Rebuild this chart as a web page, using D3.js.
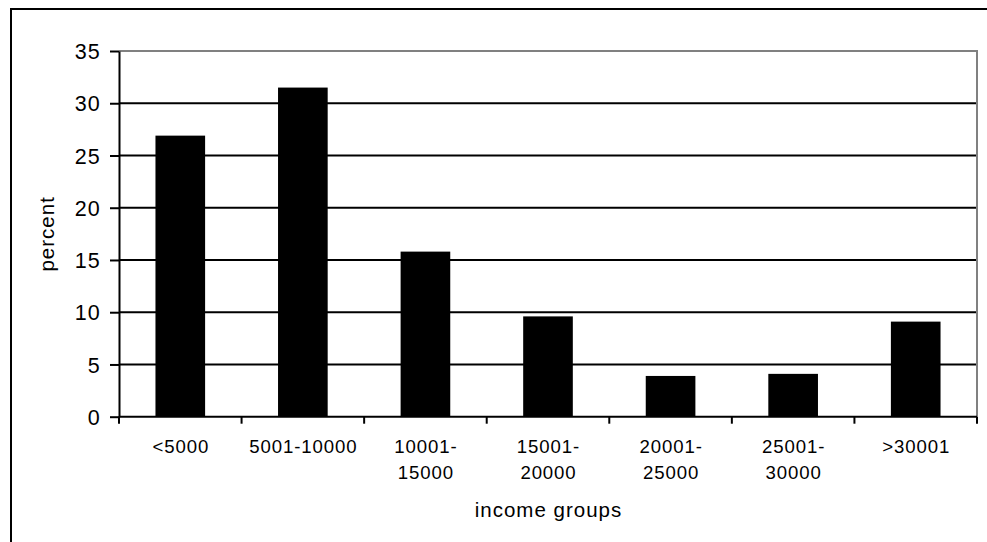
<!DOCTYPE html>
<html>
<head>
<meta charset="utf-8">
<script src="https://cdn.jsdelivr.net/npm/d3@7"></script>
<style>
  body { margin: 0; background: #fff; }
  svg { display: block; }
  text { font-family: "Liberation Sans", Arial, sans-serif; fill: #000; }
</style>
</head>
<body>
<svg id="chart" width="987" height="542"></svg>
<script>
// chart data
var groups = ["<5000", "5001-10000", "10001-15000", "15001-20000", "20001-25000", "25001-30000", ">30001"];
var groupLabels = [["<5000"], ["5001-10000"], ["10001-", "15000"], ["15001-", "20000"], ["20001-", "25000"], ["25001-", "30000"], [">30001"]];
var percent = [26.9, 31.5, 15.8, 9.6, 3.9, 4.1, 9.1];
var yTicks = [0, 5, 10, 15, 20, 25, 30, 35];

var svg = d3.select("#chart");

// plot area (note: "top" is taken by window.top, so use other names)
var plotL = 119, plotR = 977, plotT = 51, plotB = 416.7;

var x = d3.scaleBand().domain(groups).range([plotL, plotR]).padding(0);
var y = d3.scaleLinear().domain([0, 35]).range([plotB, plotT]);

// outer frame, cut off at right and bottom like the original
svg.append("rect")
  .attr("x", 11).attr("y", 9)
  .attr("width", 1000).attr("height", 600)
  .attr("fill", "none").attr("stroke", "#000").attr("stroke-width", 2);

// gridlines (top one is part of the grey plot border)
svg.append("g").selectAll("line")
  .data(yTicks.filter(function(d) { return d > 0 && d < 35; }))
  .enter().append("line")
  .attr("x1", plotL).attr("x2", plotR)
  .attr("y1", function(d) { return y(d); })
  .attr("y2", function(d) { return y(d); })
  .attr("stroke", "#000").attr("stroke-width", 2);

// grey plot border top + right
svg.append("path")
  .attr("d", "M" + plotL + "," + y(35) + "H" + plotR + "V" + plotB)
  .attr("fill", "none").attr("stroke", "#808080").attr("stroke-width", 2);

// bars
var bw = x.bandwidth() * 0.405;
svg.append("g").selectAll("rect")
  .data(groups)
  .enter().append("rect")
  .attr("x", function(d) { return x(d) + x.bandwidth() / 2 - bw / 2; })
  .attr("y", function(d, i) { return y(percent[i]); })
  .attr("width", bw)
  .attr("height", function(d, i) { return y(0) - y(percent[i]); })
  .attr("fill", "#000");

// y axis
var yAxis = svg.append("g")
  .attr("transform", "translate(" + plotL + ",0)")
  .call(d3.axisLeft(y).tickValues(yTicks).tickSize(9).tickPadding(9).tickSizeOuter(0));
yAxis.select(".domain").attr("stroke", "#000").attr("stroke-width", 2);
yAxis.selectAll(".tick line").attr("stroke", "#000").attr("stroke-width", 2);
yAxis.selectAll(".tick text")
  .attr("font-size", 21.5)
  .attr("letter-spacing", 1.2)
  .attr("dy", "0.36em")
  .attr("font-family", "Liberation Sans, Arial, sans-serif");

// x axis: line plus ticks at the group boundaries
svg.append("line")
  .attr("x1", plotL).attr("x2", plotR)
  .attr("y1", plotB).attr("y2", plotB)
  .attr("stroke", "#000").attr("stroke-width", 2);

var bounds = groups.map(function(d) { return x(d); }).concat([plotR]);
svg.append("g").selectAll("line")
  .data(bounds)
  .enter().append("line")
  .attr("x1", function(d) { return d; })
  .attr("x2", function(d) { return d; })
  .attr("y1", plotB).attr("y2", plotB + 7)
  .attr("stroke", "#000").attr("stroke-width", 2);

// x tick labels, some on two lines
var xl = svg.append("g").selectAll("text")
  .data(groups)
  .enter().append("text")
  .attr("text-anchor", "middle")
  .attr("font-size", 18.6)
  .attr("letter-spacing", 0.9)
  .attr("y", 452.7);
xl.selectAll("tspan")
  .data(function(d, i) { return groupLabels[i]; })
  .enter().append("tspan")
  .attr("x", function() { return x(d3.select(this.parentNode).datum()) + x.bandwidth() / 2 + 0.5; })
  .attr("dy", function(d, j) { return j === 0 ? 0 : 26.6; })
  .text(function(d) { return d; });

// axis titles
svg.append("text")
  .attr("x", (plotL + plotR) / 2 + 0.5)
  .attr("y", 517.3)
  .attr("text-anchor", "middle")
  .attr("font-size", 20.5)
  .attr("letter-spacing", 1)
  .text("income groups");

svg.append("text")
  .attr("transform", "translate(54," + ((plotT + plotB) / 2) + ") rotate(-90)")
  .attr("text-anchor", "middle")
  .attr("font-size", 20.5)
  .attr("letter-spacing", 1)
  .text("percent");
</script>
</body>
</html>
